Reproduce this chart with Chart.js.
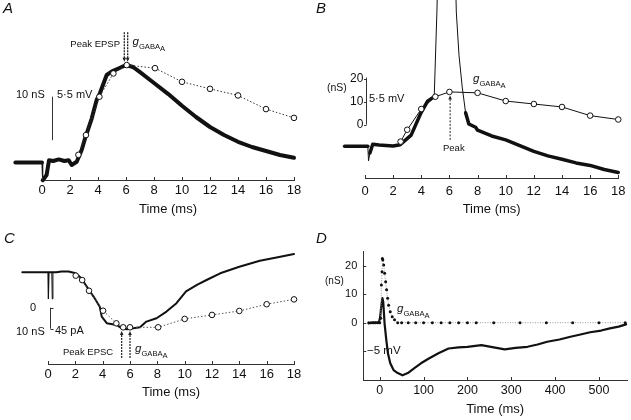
<!DOCTYPE html>
<html><head><meta charset="utf-8">
<script src="https://cdn.jsdelivr.net/npm/chart.js@4.4.1/dist/chart.umd.min.js"></script>
<style>
html,body{margin:0;padding:0;background:#fff;}
#wrap{position:relative;width:631px;height:420px;overflow:hidden;font-family:"Liberation Sans",Arial,Helvetica,sans-serif;color:#111;}
#wrap canvas{position:absolute;}
.lb{position:absolute;white-space:nowrap;line-height:1;}
</style></head><body>
<div id="wrap">
<canvas id="cA" width="315" height="218" style="left:0;top:0"></canvas>
<canvas id="cB" width="316" height="218" style="left:315px;top:0"></canvas>
<canvas id="cC" width="315" height="185" style="left:0;top:215px"></canvas>
<canvas id="cD" width="316" height="203" style="left:315px;top:215px"></canvas>
</div>
<script>
// ---------- tick label values ----------
const xTicksMs = [0,2,4,6,8,10,12,14,16,18];
const xTicksD  = [0,100,200,300,400,500];
const yTicksNS = [0,10,20];

// ---------- Panel A: EPSP (mV) and gGABA_A (nS) ----------
const tA = [-1.9,0,0.05,0.33,0.5,0.8,1.2,1.6,1.9,2.12,2.48,2.84,3.07,3.55,3.9,4.14,4.62,5.0,5.5,6.0,6.5,7,8,9,10,11,12,13,14,15,16,17,18];
const vA = [-0.2,-0.2,-2.4,-1.75,0.1,0.0,0.2,0.0,0.1,-0.5,-0.1,1.4,2.8,5.3,7.6,8.5,10.75,11.2,11.6,12.0,11.75,11.1,9.75,8.4,6.9,5.5,4.25,3.25,2.4,1.75,1.25,0.75,0.4];
const tgA = [2.6,3.14,4.1,5.1,6.05,8.07,10,12,14,16,18];
const gA  = [1.4,5.9,14.6,19.9,21.8,21.1,18.0,16.4,14.9,11.8,9.8];

// ---------- Panel B: spike (mV) and gGABA_A (nS) ----------
const tB = [-1.45,0,0.2,0.25,0.35,0.55,1,1.5,2,2.5,3.28,3.98,4.45,4.92,5.11,5.3,5.8,6.3,6.49,6.68,6.91,7.15,7.38,7.86,8,9,10,11,12,13,14,15,16,17,18];
const vB = [0,0,0,-3.5,-1.6,0.5,0.3,0.2,0.1,0.4,2.7,8.1,10.9,12.0,32.4,60,75,60,32.4,22.0,14.3,8.1,5.4,4.6,3.9,2.5,1.55,0.2,-1.2,-2.3,-3.1,-4.0,-4.6,-5.6,-6.3];
const tgB = [2.53,3.0,4.0,5.0,6.0,8.0,10,12,14,16,18];
const gB  = [-7.4,-2.2,6.9,12.3,14.4,14.0,10.4,9.1,7.8,4.0,2.3];

// ---------- Panel C: EPSC (pA) and gGABA_A (nS, plotted downward) ----------
const tC = [-1.88,0,0.03,0.08,0.28,0.31,0.36,0.6,1.0,1.5,2.03,2.44,3.0,3.42,3.79,3.93,4.3,5.03,5.39,5.76,6.73,7.2,7.94,8.67,9.4,10.1,10.9,11.6,12.6,14.0,15.5,17.0,18.0];
const iC = [0,0,-57,0,0,-57,0,0,1.7,1.7,-2,-13,-38,-56,-74,-95,-109,-113,-120,-122,-118,-105.6,-98.4,-84.2,-66.2,-41.1,-27,-16.5,-2.1,12,24.9,33.4,39.2];
const tgC = [2.03,2.5,3.0,4.03,5.0,5.5,6.0,8.06,10,12,14,16,18];
const gC  = [1.6,3.7,8.8,18.3,24.3,26.2,26.2,26.2,22.2,20.3,18.4,15.2,12.9];

// ---------- Panel D: IPSP (mV) and gGABA_A (nS) ----------
const tD = [-25,-15,-5,-2,1,3,6,8,11,15,18.8,24,31.5,41,52,64,79,94,112,135,157,180,200,232,260,285,310,337,360,382,410,435,458,480,505,525,545,562];
const vD = [-0.1,0,0,0,1.0,2.6,4.4,3.7,-0.1,-3.1,-5.5,-7.25,-8.45,-9.0,-9.4,-9.0,-8.1,-7.25,-6.4,-5.4,-4.6,-4.4,-4.3,-4.0,-4.4,-4.75,-4.5,-4.3,-3.9,-3.4,-3.0,-2.5,-2.1,-1.7,-1.4,-1.0,-0.7,-0.3];
const tgD = [-25,-20,-15,-10,-5,0,2.2,3.8,5.2,6,7,9,11.2,13.5,15.7,18,20.2,24,28.5,33.7,41,50,65,82,100,120,140,160,180,200,220,260,320,380,440,500,560];
const gD  = [0,0,0,0,0,0,1.6,13.3,18,22.7,22.2,20.4,17.5,14.5,11.6,8.6,6.2,3.9,2.1,1.0,0,0,0,0,0,0,0,0,0,0,0,0,0,0,0,0,0];

// ---------- helpers ----------
Chart.defaults.font.family = '"Liberation Sans", Arial, Helvetica, sans-serif';
Chart.defaults.color = '#111';
const INK = '#111';
const XY = (ts, vs) => ts.map((t, i) => ({x: t, y: vs[i]}));
const setTicks = arr => s => { s.ticks = arr.map(v => ({value: v})); };
const steep = (wide, thin, thr) => ({ borderWidth: c => {
  const dx = c.p1.parsed.x - c.p0.parsed.x, dy = c.p1.parsed.y - c.p0.parsed.y;
  return Math.abs(dy) > thr * Math.abs(dx) ? thin : wide; } });

function xAxis(ticks, min, max, h, pad, tpadB, fs) {
  return { type:'linear', min, max,
    afterBuildTicks: setTicks(ticks),
    ticks:{ autoSkip:false, maxRotation:0, padding:pad, font:{size:fs||13}, color:INK },
    grid:{ display:false, drawTicks:false },
    border:{ display:true, color:'#333', width:1 },
    title:{ display:true, text:'Time (ms)', font:{size:13}, color:INK, padding:{top:0, bottom:tpadB} },
    afterFit: s => { s.height = h; } };
}
const hidden = (min, max, reverse) => ({ display:false, min, max, reverse: !!reverse });
function traceDS(data, axis, wide, thin, thr) {
  return { data, yAxisID: axis, borderColor:INK, borderWidth:wide, pointRadius:0, tension:0, clip:false,
    borderJoinStyle:'round', borderCapStyle:'round', segment: steep(wide, thin, thr) };
}
function circDS(data, axis, dash, lineColor) {
  return { data, yAxisID: axis, borderColor: lineColor || '#333', borderWidth:1, borderDash: dash, tension:0, clip:false,
    pointRadius:2.8, pointBorderWidth:1, pointBackgroundColor:'#fff', pointBorderColor:INK };
}
const deco = {
  id:'deco',
  afterDatasetsDraw(chart, args, o) {
    const c = chart.ctx, X = chart.scales.x, ca = chart.chartArea;
    (o.items || []).forEach(it => {
      const Y = chart.scales[it.axis || 'y'];
      c.save();
      c.strokeStyle = c.fillStyle = it.color || '#222';
      c.lineWidth = it.w || 1;
      c.setLineDash(it.dash || []);
      if (it.t === 'path') {
        c.beginPath();
        it.pts.forEach((p, i) => { const px = Math.round(X.getPixelForValue(p[0])) + 0.5, py = Y.getPixelForValue(p[1]); i ? c.lineTo(px, py) : c.moveTo(px, py); });
        c.stroke();
      } else if (it.t === 'arrow') {
        const px = X.getPixelForValue(it.x), a = Y.getPixelForValue(it.from), b = Y.getPixelForValue(it.to);
        const d = Math.sign(b - a), h = it.head || 4;
        c.beginPath(); c.moveTo(px, a); c.lineTo(px, b - d * h * 0.5); c.stroke();
        c.setLineDash([]);
        c.beginPath(); c.moveTo(px, b); c.lineTo(px - h * 0.45, b - d * h); c.lineTo(px + h * 0.45, b - d * h); c.closePath(); c.fill();
      } else if (it.t === 'xticks') {
        X.ticks.forEach(tk => { const px = Math.round(X.getPixelForValue(tk.value)) + 0.5; c.beginPath(); c.moveTo(px, ca.bottom); c.lineTo(px, ca.bottom - it.len); c.stroke(); });
      } else if (it.t === 'yticks') {
        const px = it.x == null ? ca.left : Math.round(X.getPixelForValue(it.x)) + 0.5;
        it.values.forEach(v => { const py = Math.round(Y.getPixelForValue(v)) + 0.5; c.beginPath(); c.moveTo(px, py); c.lineTo(px + it.len, py); c.stroke(); });
      }
      c.restore();
    });
  }
};
function baseOpts(padding, scales, items) {
  return { responsive:false, animation:false, devicePixelRatio:1, events:[],
    layout:{ padding },
    plugins:{ legend:{display:false}, tooltip:{enabled:false}, deco:{ items } },
    scales };
}

// ---------- Panel A ----------
new Chart(document.getElementById('cA'), {
  type:'line',
  data:{ datasets:[ circDS(XY(tgA, gA), 'yg', [1.5, 2]), traceDS(XY(tA, vA), 'y', 4, 1.2, 15) ] },
  options: baseOpts({left:42, right:21, top:20, bottom:0},
    { x: xAxis(xTicksMs, 0, 18, 38, 3, 1), y: hidden(-2.375, 17.625), yg: hidden(-4.318, 32.045) },
    [ {t:'xticks', len:3, color:'#333'},
      {t:'path', axis:'y', pts:[[0.69, 2.6], [0.69, 8.04]], color:'#333'},
      {t:'arrow', axis:'y', x:5.88, from:16.1, to:12.4, dash:[2, 1], w:1.3, head:4},
      {t:'arrow', axis:'y', x:6.12, from:16.1, to:12.4, dash:[2, 1], w:1.3, head:4} ]),
  plugins:[deco]
});

// ---------- Panel B ----------
new Chart(document.getElementById('cB'), {
  type:'line',
  data:{ datasets:[ circDS(XY(tgB, gB), 'yg', [], INK), traceDS(XY(tB, vB), 'y', 3.5, 1, 15) ] },
  options: baseOpts({left:50, right:10, top:0, bottom:0},
    { x: xAxis(xTicksMs, 0, 18, 40, 5.5, 1),
      y: hidden(-7.64, 33.58),
      yg: { axis:'y', position:{x:-0.12}, min:-23.37, max:51.58, afterBuildTicks: setTicks(yTicksNS),
            ticks:{ padding:0, font:{size:12}, color:INK }, grid:{display:false, drawTicks:false},
            border:{display:false}, afterFit: s => { s.width = 0; } } },
    [ {t:'xticks', len:3, color:'#333'},
      {t:'path', axis:'yg', pts:[[0.07, 0], [0.07, 20.7]], color:'#333'},
      {t:'yticks', axis:'yg', x:0.07, values:yTicksNS, len:-2.5, color:'#333'},
      {t:'arrow', axis:'y', x:6.05, from:1.55, to:12.3, dash:[2, 1.5], w:1, head:4} ]),
  plugins:[deco]
});

// ---------- Panel C ----------
new Chart(document.getElementById('cC'), {
  type:'line',
  data:{ datasets:[ circDS(XY(tgC, gC), 'yg', [1.5, 2], '#555'), traceDS(XY(tC, iC), 'y', 2, 1, 500) ] },
  options: baseOpts({left:48, right:21, top:25, bottom:0},
    { x: xAxis(xTicksMs, 0, 18, 36, 3, 0), y: hidden(-196.5, 69.2), yg: hidden(-15.38, 43.67, true) },
    [ {t:'xticks', len:3, color:'#333'},
      {t:'path', axis:'y', pts:[[0.15, -75.9], [0.15, -120.9]], color:'#333'},
      {t:'yticks', axis:'y', x:0.15, values:[-75.9, -120.9], len:3, color:'#333'},
      {t:'arrow', axis:'y', x:5.39, from:-183.7, to:-125.8, dash:[2, 1], w:1.2, head:4},
      {t:'arrow', axis:'y', x:6.0, from:-183.7, to:-125.8, dash:[2, 1], w:1.2, head:4} ]),
  plugins:[deco]
});

// ---------- Panel D ----------
new Chart(document.getElementById('cD'), {
  type:'line',
  data:{ datasets:[
    { data: XY(tgD, gD), yAxisID:'yg', borderColor:'#999', borderWidth:1, borderDash:[1, 1.5], tension:0, clip:false,
      pointRadius:1.5, pointBorderWidth:0, pointBackgroundColor:INK },
    traceDS(XY(tD, vD), 'y', 2.2, 1, 1e9) ] },
  options: baseOpts({left:0, right:0, top:36.7, bottom:0},
    { x: xAxis(xTicksD, -37.5, 564, 38, 3, 1, 12.5),
      y: hidden(-10.23, 12.68),
      yg: { axis:'y', position:'left', min:-20.25, max:25.09, afterBuildTicks: setTicks(yTicksNS),
            ticks:{ padding:6, font:{size:11}, color:INK }, grid:{display:false, drawTicks:false},
            border:{display:true, color:'#333', width:1}, afterFit: s => { s.width = 48.3; } } },
    [ {t:'xticks', len:3, color:'#333'},
      {t:'yticks', axis:'yg', x:null, values:yTicksNS, len:3, color:'#333'},
      {t:'yticks', axis:'y', x:null, values:[-5], len:3, color:'#333'} ]),
  plugins:[deco]
});

// ---------- text labels ----------
const wrap = document.getElementById('wrap');
function label(x, base, size, html, o) {
  o = o || {};
  const d = document.createElement('div');
  d.className = 'lb';
  d.style.fontSize = size + 'px';
  d.style.top = (base - 0.8465 * size).toFixed(1) + 'px';
  if (o.right) d.style.right = (631 - x) + 'px'; else d.style.left = x + 'px';
  if (o.italic) d.style.fontStyle = 'italic';
  d.innerHTML = html;
  wrap.appendChild(d);
}
function gG(s) {
  return '<i>g</i><span style="font-size:' + (s * 0.66).toFixed(1) + 'px;position:relative;top:' + (s * 0.29).toFixed(1) +
    'px">GABA<span style="position:relative;top:' + (s * 0.2).toFixed(1) + 'px">A</span></span>';
}
// panel letters
label(3, 13, 15, 'A', {italic:true});
label(316, 13, 15, 'B', {italic:true});
label(4, 243, 15, 'C', {italic:true});
label(316, 243, 15, 'D', {italic:true});
// A
label(120, 46.7, 9.5, 'Peak EPSP', {right:true});
label(132.5, 46, 11.5, gG(11.5));
label(16, 98, 11, '10 nS');
label(57, 98, 11, '5\u00B75 mV');
// B
label(327, 90.5, 10.5, '(nS)');
label(369, 102, 11, '5\u00B75 mV');
label(443, 150.7, 9.5, 'Peak');
label(473, 83, 11.5, gG(11.5));
// C
label(30, 311.5, 11, '0');
label(16, 335, 11, '10 nS');
label(55, 334, 11, '45 pA');
label(63, 355, 9.5, 'Peak EPSC');
label(135, 353, 11.5, gG(11.5));
// D
label(325, 284.5, 10, '(nS)');
label(367, 355, 11.5, '\u22125 mV');
label(397, 313, 11.5, gG(11.5));
</script>
</body></html>
